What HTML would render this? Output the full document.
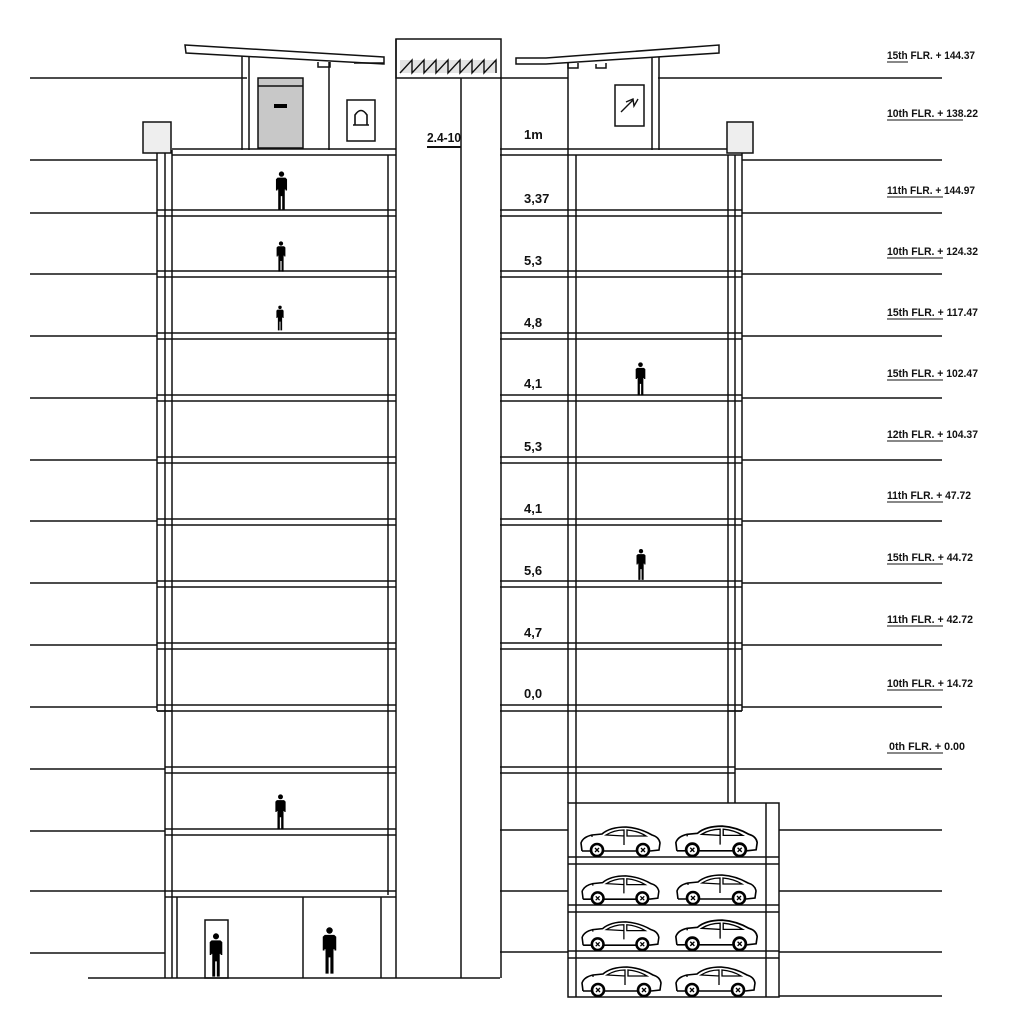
<!DOCTYPE html>
<html><head><meta charset="utf-8"><style>
html,body{margin:0;padding:0;background:#fff}
svg{display:block}
text{font-family:"Liberation Sans",sans-serif;fill:#111}
</style></head><body>
<svg width="1024" height="1024" viewBox="0 0 1024 1024" xmlns="http://www.w3.org/2000/svg">
<defs>
<symbol id="p" viewBox="0 0 12 38">
<circle cx="6" cy="3" r="2.6" fill="#000"/>
<path d="M2.2,6.5 h7.6 l1.6,1.5 v11 h-1.4 v-1 l-0.8,0 v19.5 h-2.5 v-13 h-1.4 v13 h-2.5 v-19.5 l-0.8,0 v1 h-1.4 v-11 z" fill="#000"/>
</symbol>
<symbol id="car" viewBox="0 0 84 34">
<path d="M4,28 L3,20 Q5,14 14,12 L24,11 Q32,4 48,4 Q62,5 74,12 Q81,14 82,20 L81,27 L72,28 M58,28 L26,28 M12,28 L4,28" fill="none" stroke="#000" stroke-width="1.6"/>
<path d="M28,12 Q36,7 46,7 L46,13 Z M49,7 Q60,8 68,13 L49,13 Z M46,7 L46,22 M14,12 L14,14" fill="none" stroke="#000" stroke-width="1.3"/>
<circle cx="19" cy="27" r="6" fill="#fff" stroke="#000" stroke-width="2.6"/>
<circle cx="65" cy="27" r="6" fill="#fff" stroke="#000" stroke-width="2.6"/>
<path d="M17,25 l4,4 M21,25 l-4,4 M63,25 l4,4 M67,25 l-4,4" stroke="#000" stroke-width="1.3"/>
</symbol>
</defs>
<g stroke="#111" stroke-width="1.5" fill="none">
<path d="M30,78 H247 M30,160 H157 M30,213 H157 M30,274 H157 M30,336 H157 M30,398 H157 M30,460 H157 M30,521 H157 M30,583 H157 M30,645 H157 M30,707 H157 M30,769 H165 M30,831 H165 M30,891 H165 M30,953 H165 M88,978 H500"/>
<path d="M500,78 H568 M658,78 H942 M742,160 H942 M742,213 H942 M742,274 H942 M742,336 H942 M742,398 H942 M742,460 H942 M742,521 H942 M742,583 H942 M742,645 H942 M742,707 H942 M735,769 H942 M779,830 H942 M779,891 H942 M779,952 H942 M779,996 H942 M500,830 H568 M500,891 H568 M500,952 H568"/>
<path d="M157,150 V711 M165,150 V978 M172,150 V978 M157,711 H172"/>
<path d="M388,155 V895 M396,39 V978"/>
<rect x="396" y="39" width="105" height="39"/>
<path d="M461,78 V978 M501,78 V978"/>
<path d="M568,63 V803 M576,155 V803 M728,155 V803 M735,155 V803 M742,150 V711 M728,711 H742"/>
<g>
<path d="M172,149 H396 M172,155 H396"/>
<path d="M157,210 H396 M157,216 H396 M157,271 H396 M157,277 H396 M157,333 H396 M157,339 H396 M157,395 H396 M157,401 H396 M157,457 H396 M157,463 H396 M157,519 H396 M157,525 H396 M157,581 H396 M157,587 H396 M157,643 H396 M157,649 H396 M157,705 H396 M157,711 H396 M165,767 H396 M165,773 H396 M165,829 H396 M165,835 H396 M165,891 H396 M165,897 H396"/>
<path d="M500,149 H742 M500,155 H742 M500,210 H742 M500,216 H742 M500,271 H742 M500,277 H742 M500,333 H742 M500,339 H742 M500,395 H742 M500,401 H742 M500,457 H742 M500,463 H742 M500,519 H742 M500,525 H742 M500,581 H742 M500,587 H742 M500,643 H742 M500,649 H742 M500,705 H742 M500,711 H742 M500,767 H735 M500,773 H735"/>
</g>
<path d="M177,897 V978 M303,897 V978 M381,897 V978"/>
<rect x="205" y="920" width="23" height="58"/>
<path d="M185,45 L384,57 L384,64 L186,53 Z" fill="#fff"/>
<path d="M354,63 H384" />
<path d="M242,56 V150 M249,57 V150 M329,62 V150"/>
<path d="M318,62 v5 h12 v-5"/>
<rect x="258" y="78" width="45" height="70" fill="#c8c8c8"/>
<path d="M258,86 H303"/>
<rect x="274" y="104" width="13" height="4" fill="#000" stroke="none"/>
<rect x="347" y="100" width="28" height="41"/>
<path d="M355,125 V115 Q361,106 367,115 V125 M353,125 H369" stroke-width="1.6"/>
<path d="M516,58 L546,58 L719,45 L719,53 L546,64 L516,64 Z" fill="#fff"/>
<path d="M568,62 v6 h10 v-5 M596,64 v4 h10 v-5"/>
<path d="M652,58 V150 M659,57 V150"/>
<rect x="615" y="85" width="29" height="41"/>
<path d="M621,112 L633,100 M626,102 L633,99 L634,106 L638,99" stroke-width="1.4"/>
<rect x="143" y="122" width="28" height="31" fill="#eee"/>
<rect x="727" y="122" width="26" height="31" fill="#eee"/>
<path d="M400,60 H497 V73 H400 Z" fill="#e4e4e4" stroke="none"/>
<path d="M400,73 L412,60 V73 L424,60 V73 L436,60 V73 L448,60 V73 L460,60 V73 L472,60 V73 L484,60 V73 L496,60 V73" stroke-width="1.4"/>
<path d="M427,147 H461" stroke-width="2"/>
<rect x="568" y="803" width="211" height="194"/>
<path d="M576,803 V997 M766,803 V997"/>
<path d="M568,857 H779 M568,864 H779 M568,905 H779 M568,912 H779 M568,951 H779 M568,958 H779"/>
</g>
<use href="#car" x="578" y="823" width="84" height="34"/>
<use href="#car" x="672" y="822" width="88" height="35"/>
<use href="#car" x="578" y="872" width="84" height="33"/>
<use href="#car" x="672" y="871" width="88" height="34"/>
<use href="#car" x="578" y="918" width="84" height="33"/>
<use href="#car" x="672" y="916" width="88" height="35"/>
<use href="#car" x="578" y="963" width="86" height="34"/>
<use href="#car" x="672" y="963" width="86" height="34"/>
<use href="#p" x="275" y="171" width="13" height="39"/>
<use href="#p" x="276" y="241" width="10" height="31"/>
<use href="#p" x="276" y="303" width="8" height="30"/>
<use href="#p" x="634" y="362" width="13" height="34"/>
<use href="#p" x="636" y="547" width="10" height="35"/>
<use href="#p" x="274" y="794" width="13" height="36"/>
<use href="#p" x="209" y="932" width="14" height="46"/>
<use href="#p" x="322" y="923" width="15" height="55"/>
<text x="427" y="142" font-size="13" font-weight="bold" textLength="34" lengthAdjust="spacingAndGlyphs">2.4-10</text>
<g font-size="13" font-weight="bold">
<text x="524" y="139">1m</text>
<text x="524" y="203">3,37</text>
<text x="524" y="265">5,3</text>
<text x="524" y="327">4,8</text>
<text x="524" y="388">4,1</text>
<text x="524" y="451">5,3</text>
<text x="524" y="513">4,1</text>
<text x="524" y="575">5,6</text>
<text x="524" y="637">4,7</text>
<text x="524" y="698">0,0</text>
</g>
<g font-size="11" font-weight="bold" lengthAdjust="spacingAndGlyphs">
<text x="887" y="59" textLength="88" lengthAdjust="spacingAndGlyphs">15th FLR. + 144.37</text>
<text x="887" y="117" textLength="91" lengthAdjust="spacingAndGlyphs">10th FLR. + 138.22</text>
<text x="887" y="194" textLength="88" lengthAdjust="spacingAndGlyphs">11th FLR. + 144.97</text>
<text x="887" y="255" textLength="91" lengthAdjust="spacingAndGlyphs">10th FLR. + 124.32</text>
<text x="887" y="316" textLength="91" lengthAdjust="spacingAndGlyphs">15th FLR. + 117.47</text>
<text x="887" y="377" textLength="91" lengthAdjust="spacingAndGlyphs">15th FLR. + 102.47</text>
<text x="887" y="438" textLength="91" lengthAdjust="spacingAndGlyphs">12th FLR. + 104.37</text>
<text x="887" y="499" textLength="84" lengthAdjust="spacingAndGlyphs">11th FLR. + 47.72</text>
<text x="887" y="561" textLength="86" lengthAdjust="spacingAndGlyphs">15th FLR. + 44.72</text>
<text x="887" y="623" textLength="86" lengthAdjust="spacingAndGlyphs">11th FLR. + 42.72</text>
<text x="887" y="687" textLength="86" lengthAdjust="spacingAndGlyphs">10th FLR. + 14.72</text>
<text x="889" y="750" textLength="76" lengthAdjust="spacingAndGlyphs">0th FLR. + 0.00</text>
</g>
<g stroke="#111" stroke-width="1">
<path d="M887,62 H908 M887,120 H963 M887,197 H943 M887,258 H943 M887,319 H943 M887,380 H943 M887,441 H943 M887,502 H943 M887,564 H943 M887,626 H943 M887,690 H943 M887,753 H943"/>
</g>
</svg>
</body></html>
